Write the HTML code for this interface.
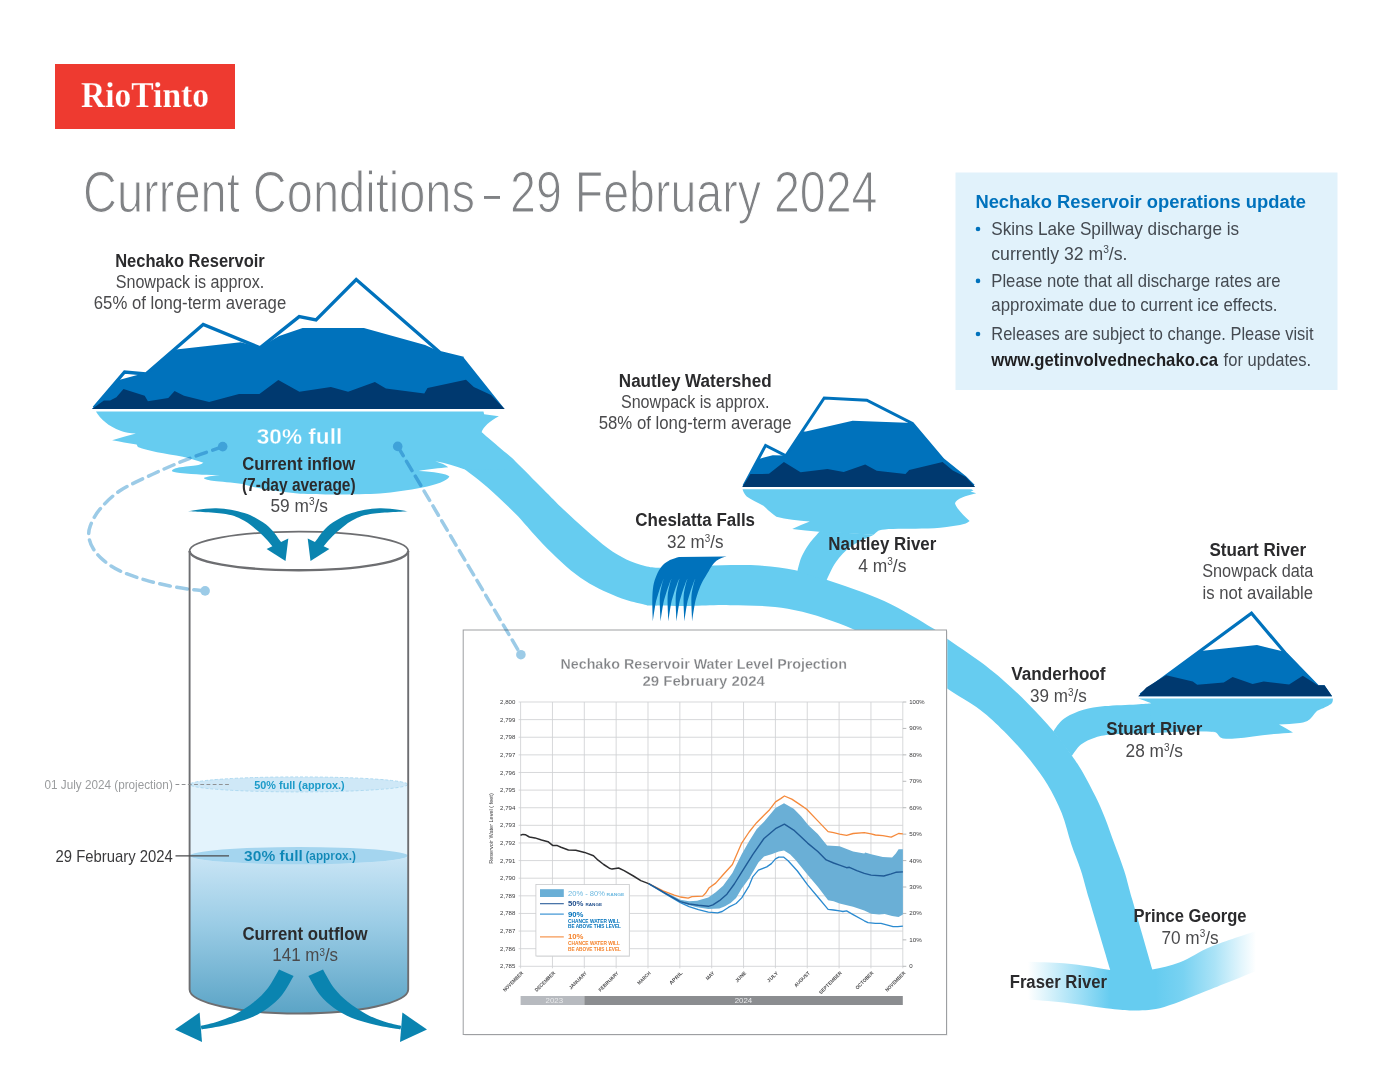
<!DOCTYPE html>
<html lang="en"><head><meta charset="utf-8"><title>Current Conditions - 29 February 2024</title>
<style>
html,body{margin:0;padding:0;background:#fff;}
body{width:1400px;height:1082px;overflow:hidden;font-family:"Liberation Sans",sans-serif;}
svg{display:block;}
text{white-space:pre;}
</style></head><body>
<svg width="1400" height="1082" viewBox="0 0 1400 1082">
<defs>
<linearGradient id="gWater" x1="0" y1="0" x2="0" y2="1">
<stop offset="0" stop-color="#cfe8f7"/><stop offset="0.45" stop-color="#9ccde6"/><stop offset="1" stop-color="#5ba4c6"/>
</linearGradient>
<linearGradient id="gFraser" gradientUnits="userSpaceOnUse" x1="1028" y1="0" x2="1256" y2="0">
<stop offset="0" stop-color="#66ccf0" stop-opacity="0"/><stop offset="0.16" stop-color="#66ccf0" stop-opacity="0.45"/><stop offset="0.36" stop-color="#66ccf0" stop-opacity="1"/>
<stop offset="0.56" stop-color="#66ccf0" stop-opacity="1"/><stop offset="0.68" stop-color="#66ccf0" stop-opacity="0.88"/><stop offset="0.82" stop-color="#66ccf0" stop-opacity="0.55"/>
<stop offset="0.93" stop-color="#66ccf0" stop-opacity="0.2"/><stop offset="1" stop-color="#66ccf0" stop-opacity="0"/>
</linearGradient>
</defs>
<rect width="1400" height="1082" fill="#fff"/>
<rect x="55" y="64" width="180" height="65" fill="#ee3a30"/>
<text x="81.0" y="107.1" font-family="'Liberation Serif', serif" font-size="36.50" font-weight="bold" fill="#fff" text-anchor="start" textLength="128.0" lengthAdjust="spacingAndGlyphs" stroke="#ee3a30" stroke-width="0.25">RioTinto</text>
<text x="83.0" y="211.7" font-family="'Liberation Sans', sans-serif" font-size="56.50" fill="#808285" text-anchor="start" textLength="392.0" lengthAdjust="spacingAndGlyphs" stroke="#fff" stroke-width="1.2">Current Conditions</text>
<rect x="484" y="196" width="16" height="2.9" fill="#808285"/>
<text x="510.0" y="211.7" font-family="'Liberation Sans', sans-serif" font-size="56.50" fill="#808285" text-anchor="start" textLength="367.5" lengthAdjust="spacingAndGlyphs" stroke="#fff" stroke-width="1.2">29 February 2024</text>
<rect x="955.5" y="172.5" width="382" height="217.5" fill="#e1f2fb"/>
<text x="975.4" y="208.0" font-family="'Liberation Sans', sans-serif" font-size="19.20" font-weight="bold" fill="#0072bc" text-anchor="start" textLength="330.6" lengthAdjust="spacingAndGlyphs">Nechako Reservoir operations update</text>
<text x="991.3" y="235.0" font-family="'Liberation Sans', sans-serif" font-size="18.20" fill="#444a51" text-anchor="start" textLength="247.8" lengthAdjust="spacingAndGlyphs">Skins Lake Spillway discharge is</text>
<circle cx="978" cy="229.0" r="2.3" fill="#0072bc"/>
<text x="991.3" y="259.9" font-family="'Liberation Sans', sans-serif" font-size="18.20" fill="#444a51" text-anchor="start" textLength="136.2" lengthAdjust="spacingAndGlyphs">currently 32 m<tspan font-size="58%" dy="-0.62em">3</tspan><tspan dy="0.3596em">/s</tspan>.</text>
<text x="991.3" y="286.9" font-family="'Liberation Sans', sans-serif" font-size="18.20" fill="#444a51" text-anchor="start" textLength="289.2" lengthAdjust="spacingAndGlyphs">Please note that all discharge rates are</text>
<circle cx="978" cy="280.9" r="2.3" fill="#0072bc"/>
<text x="991.3" y="311.2" font-family="'Liberation Sans', sans-serif" font-size="18.20" fill="#444a51" text-anchor="start" textLength="286.2" lengthAdjust="spacingAndGlyphs">approximate due to current ice effects.</text>
<text x="991.3" y="340.0" font-family="'Liberation Sans', sans-serif" font-size="18.20" fill="#444a51" text-anchor="start" textLength="322.2" lengthAdjust="spacingAndGlyphs">Releases are subject to change. Please visit</text>
<circle cx="978" cy="334.0" r="2.3" fill="#0072bc"/>
<text x="991.3" y="365.5" font-family="'Liberation Sans', sans-serif" font-size="18.20" font-weight="bold" fill="#1f1f21" text-anchor="start" textLength="226.8" lengthAdjust="spacingAndGlyphs">www.getinvolvednechako.ca</text>
<text x="1223.6" y="365.5" font-family="'Liberation Sans', sans-serif" font-size="18.20" fill="#444a51" text-anchor="start" textLength="87.5" lengthAdjust="spacingAndGlyphs">for updates.</text>
<path d="M481.6 432.3C484.3 434.6 492.4 441.4 498.0 446.2C503.6 451.0 508.0 454.2 515.5 461.4C523.0 468.6 535.2 481.2 543.2 489.2C551.2 497.2 556.4 502.7 563.5 509.5C570.6 516.3 578.3 523.3 585.7 529.8C593.1 536.3 601.1 543.4 607.9 548.3C614.7 553.2 620.2 556.5 626.4 559.4C632.6 562.3 639.2 564.5 644.9 565.9C650.6 567.3 653.1 567.5 660.6 567.7C668.1 567.9 679.7 567.4 690.0 567.0C700.3 566.6 710.5 565.5 722.2 565.2C733.9 565.0 747.8 564.7 760.0 565.5C772.2 566.3 784.4 567.8 795.5 570.2C806.6 572.6 811.6 574.7 826.4 579.8C841.2 584.9 866.5 593.0 884.2 601.0C901.9 609.0 922.0 621.8 932.4 628.0C942.8 634.2 938.5 632.7 946.4 638.3C954.3 643.9 970.4 654.5 980.0 661.6C989.6 668.7 996.0 673.9 1004.0 680.9C1012.0 687.9 1019.9 695.4 1028.1 703.7C1036.3 712.0 1046.0 722.3 1053.3 730.9C1060.6 739.5 1066.8 748.3 1071.8 755.4C1076.8 762.5 1079.5 766.6 1083.4 773.4C1087.3 780.2 1091.8 788.9 1095.4 796.3C1099.0 803.7 1101.8 809.9 1105.0 817.9C1108.2 825.9 1111.4 835.5 1114.6 844.3C1117.8 853.1 1121.2 861.5 1124.2 870.8C1127.2 880.1 1127.7 883.6 1132.4 900.1C1137.1 916.6 1148.2 955.2 1152.3 969.5C1156.4 983.8 1156.2 983.2 1157.0 986.0L1114.6 986.0C1113.9 983.4 1114.4 984.4 1110.2 970.1C1106.0 955.8 1094.3 916.7 1089.4 900.1C1084.5 883.5 1084.0 880.1 1081.0 870.8C1078.0 861.5 1074.5 853.9 1071.3 844.3C1068.1 834.7 1065.7 823.1 1061.7 813.1C1057.7 803.1 1052.9 793.4 1047.3 784.2C1041.7 775.0 1035.3 766.6 1028.1 757.8C1020.9 749.0 1012.0 739.3 1004.0 731.3C996.0 723.3 989.6 716.9 980.0 709.7C970.4 702.5 959.7 697.1 946.4 688.0C933.1 678.9 916.8 665.3 900.0 655.0C883.2 644.7 864.4 633.8 845.7 626.1C827.0 618.4 807.1 612.2 787.8 608.7C768.5 605.2 746.3 605.7 730.0 605.2C713.7 604.8 703.0 605.9 690.0 606.0C677.0 606.1 659.8 605.8 652.3 605.6C644.8 605.4 649.2 605.6 644.9 604.7C640.6 603.8 632.6 602.1 626.4 600.1C620.2 598.1 614.1 595.5 607.9 592.7C601.7 589.9 595.6 587.1 589.4 583.4C583.2 579.7 577.1 575.5 570.9 570.5C564.7 565.5 558.6 559.6 552.4 553.6C546.2 547.6 540.0 540.8 533.9 534.2C527.8 527.6 523.2 521.6 515.5 513.8C507.8 506.0 496.1 495.0 487.7 487.6C479.3 480.2 468.7 472.6 464.9 469.6Z" fill="#66ccf0"/>
<path d="M1028.0 961.7C1034.0 962.0 1053.4 962.4 1063.7 963.2C1074.0 964.0 1082.2 965.4 1090.0 966.5C1097.8 967.6 1103.4 969.3 1110.2 970.1C1117.0 970.9 1124.0 971.6 1131.0 971.5C1138.0 971.4 1144.1 971.0 1152.3 969.5C1160.5 968.0 1170.2 966.1 1180.0 962.3C1189.8 958.5 1198.7 951.8 1211.4 946.6C1224.1 941.4 1248.6 933.6 1256.0 931.0L1256.0 971.0C1248.6 974.0 1226.7 983.0 1211.4 989.0C1196.1 995.0 1176.9 1003.3 1164.3 1006.9C1151.7 1010.5 1144.9 1010.1 1136.0 1010.4C1127.1 1010.7 1123.0 1010.1 1110.9 1008.8C1098.9 1007.5 1077.5 1004.1 1063.7 1002.5C1049.9 1000.9 1034.0 999.9 1028.0 999.4Z" fill="url(#gFraser)"/>
<path d="M820.0 531.0C818.2 533.2 812.1 539.7 809.0 544.0C805.9 548.3 803.5 552.4 801.5 557.0C799.5 561.6 798.0 569.1 797.3 571.5L826.4 580.5C828.0 577.4 831.9 567.7 836.0 562.0C840.1 556.3 844.7 551.0 851.0 546.5C857.3 542.0 869.9 536.7 873.7 534.7Z" fill="#66ccf0"/>
<path d="M1053.3 731.6C1054.2 730.2 1056.8 726.0 1059.0 723.5C1061.2 721.0 1062.4 719.2 1066.5 716.9C1070.6 714.6 1077.0 711.5 1083.4 709.7C1089.8 707.9 1096.2 707.0 1105.0 706.1C1113.8 705.2 1128.6 704.8 1136.3 704.4C1144.0 704.0 1148.5 703.7 1151.0 703.6L1215.0 732.4C1212.8 732.2 1210.0 731.1 1201.7 731.1C1193.4 731.1 1173.9 732.0 1165.0 732.4C1156.1 732.8 1156.7 733.0 1148.3 733.3C1139.9 733.6 1123.4 733.5 1114.6 734.2C1105.8 734.9 1101.0 735.7 1095.4 737.4C1089.8 739.1 1084.9 741.5 1081.0 744.6C1077.1 747.7 1073.3 754.1 1071.8 756.0Z" fill="#66ccf0"/>
<path d="M92.0 409.0L118.8 380.0L139.2 374.5L146.2 373.0L176.1 349.4L240.6 342.3L260.2 347.3L279.1 336.0L302.6 328.1L363.9 328.1L425.1 345.1L440.1 351.7L463.6 357.5L504.6 409.0Z" fill="#0072bc"/>
<path d="M94.0 407.9L124.6 372L146 374L203.2 324.4L260 347.8L299.2 316.6L316 319.9L356.2 279.6L440 352.6L463.4 358.4" fill="none" stroke="#0072bc" stroke-width="3.3" stroke-linejoin="miter"/>
<path d="M92.0 409.0L103.9 400.6L110.1 400.4L116.4 397.3L123.5 389.0L144.7 395.7L147.9 401.2L168.3 398.1L174.6 391.0L184.0 395.7L209.1 402.0L239.0 394.1L259.4 394.1L278.3 380.0L299.4 391.8L330.9 387.1L348.1 391.8L374.9 381.9L385.9 388.6L424.3 393.4L427.5 387.9L466.0 379.7L473.8 387.1L491.1 394.9L504.6 409.0Z" fill="#00396f"/>
<path d="M96.1 411.6L483.5 411.6L484.1 414.3L498.9 416.2C490 421 483 427 481.6 432.3L520 470L464.9 469.6C455 466 446 463 435.3 461.2C441 463 446 465 448.3 467.3C440 468.3 428 469 418.6 471.1C433 472 447 473.5 449.4 476.6C447 481 436 485 422.4 487.6C408 490.5 394 492.4 380 493.4C360 494.6 320 494.8 300 493.7C275 491.5 255 488 242.9 483.9C232 482.5 220 481.6 214.3 481C209 480.4 204 479.4 204 478.1C205 476.8 213 475.8 220 475.3C210 475.2 195 474.4 180 473C175 472.4 172 471.8 172 470.7C172 469.3 176 468 180 467.3C188 466.2 195 465.6 198.3 465C200.5 464.4 202.5 463.5 203.4 462.7C196 460.3 190 458.4 182.9 456.7C174 455 165 453.7 157.1 452.2C150 450.7 143 449 137.9 447.1L136.6 444.5C128 443.2 120 441.8 112.1 440.3C120 437.8 128 435.5 135.9 433.6C130 433.2 125 432.3 121.1 431C114 428.5 109 425.5 105.7 422.6C101 418.5 98 415 96.1 411.7Z" fill="#66ccf0"/>
<path d="M742.4 486.9L758.0 458.4L760.6 458.4L772.7 455.2L785.7 455.6L803.0 431.4L805.8 431.4L852.6 420.7L906.4 422.7L912.9 423.1L943.6 459.3L965.8 476.9L975.0 486.9Z" fill="#0072bc"/>
<path d="M743.9 485.9L765.6 445.4L785.9 455.8L824.2 398L866.8 400.2L912.4 423.4L943 459.6L965 477.4L973.5 485.9" fill="none" stroke="#0072bc" stroke-width="3.0" stroke-linejoin="miter"/>
<path d="M742.4 486.9L750.4 474.1L769.0 473.8L783.9 462.1L800.6 472.3L827.5 469.1L843.7 471.9L865.2 464.5L876.7 470.8L905.5 474.1L909.2 470.1L942.6 462.1L952.8 470.4L965.8 476.9L975.0 486.9Z" fill="#00396f"/>
<path d="M742.6 489.2L971.4 489.2L973.5 490.4L970.5 491.6L976.2 493.2C966 495.5 956 499 955 503.2C956.5 509 964 515.5 969.6 521.1C968 523 964 524.3 960 525C951 526.6 942 527.7 934.3 528.2C918 528.8 900 528.6 888.6 529C883 529.5 880 530 878.3 530.7C876.5 532 875 533.5 873.7 534.7L819.1 531.7C810 531 801 530 792.2 528.9C798 526.3 804 523.8 809.8 521.5C798 520.6 786 519.3 776.4 516.8C771 513 767 509 763.4 505.7C757 502.3 751 499.5 746.7 496.4C744.5 494 743.3 491.7 742.6 489.4Z" fill="#66ccf0"/>
<path d="M1138.3 696.2L1200.5 650.9L1257.0 645.0L1285.8 652.0L1317.9 685.3L1324.5 685.3L1332.1 696.2Z" fill="#0072bc"/>
<path d="M1140.6 694.8L1251.5 613.2L1285.2 653L1317.3 686.2" fill="none" stroke="#0072bc" stroke-width="3.2" stroke-linejoin="miter"/>
<path d="M1138.3 696.2L1146.3 687.5L1166.2 675.3L1192.8 681.5L1197.2 684.8L1223.8 682.4L1232.6 677.1L1252.6 684.1L1263.7 681.5L1289.1 684.6L1302.8 675.7L1317.9 685.3L1324.5 685.3L1332.1 696.2Z" fill="#00396f"/>
<path d="M1138.5 698.5L1332.8 698.5C1333 700.5 1332.6 702.3 1331.5 703.5C1330 705 1324 708 1320 709.5C1317.5 710.5 1316.5 711.3 1316 712C1314 714 1313 716 1311 718C1309.5 719.7 1308 720.8 1306 721.5C1304 722.3 1302 722.8 1300 723C1293 723.8 1286 724.2 1279 724.5C1284 727.2 1288.5 730 1293 732.5C1287 733.2 1280 733.6 1274 734C1267 734.8 1260 735.6 1253 736.5C1247 737.3 1241 738.1 1235 738.5C1231 738.8 1227 738.8 1223 738.5C1221 738 1219.8 737 1219 736C1218 734.6 1217.2 733.3 1216 732.5C1214.5 731.8 1212 731.6 1210 731.5L1150 731L1150.7 703C1146 701.3 1142 699.8 1138.5 698.5Z" fill="#66ccf0"/>
<path d="M652.8 621.4C652.7 617.9 652.2 606.4 652.3 600.5C652.4 594.6 652.6 590.2 653.3 586.0C654.0 581.8 655.2 578.4 656.6 575.2C658.0 572.0 659.6 569.0 661.6 566.6C663.6 564.2 665.9 562.4 668.8 560.8C671.7 559.2 677.2 557.7 678.9 557.1L726.5 556.5L726.5 556.5C725.7 556.7 723.2 557.2 721.5 557.9C719.8 558.6 718.0 559.5 716.4 560.8C714.8 562.1 713.3 563.9 712.1 565.5C710.9 567.1 710.4 568.2 709.2 570.2C708.0 572.2 706.2 575.1 704.9 577.4C703.6 579.7 702.5 581.2 701.3 583.9C700.1 586.5 698.8 589.9 697.7 593.3C696.6 596.7 695.7 599.4 694.8 604.1C693.9 608.8 692.5 618.5 692.1 621.4L692.1 621.4C692.0 618.5 691.5 608.8 691.4 604.1C691.3 599.4 691.3 596.6 691.7 593.3C692.1 590.0 693.0 586.7 693.6 584.2C694.2 581.8 695.1 579.5 695.4 578.6L695.4 578.6C695.0 579.5 694.0 581.5 693.1 583.9C692.2 586.3 690.9 589.9 689.9 593.3C688.9 596.7 687.9 599.4 687.0 604.1C686.1 608.8 684.8 618.5 684.3 621.4L684.3 621.4C684.2 618.5 683.7 608.8 683.6 604.1C683.5 599.4 683.5 596.6 683.9 593.3C684.3 590.0 685.2 586.7 685.8 584.2C686.4 581.8 687.3 579.5 687.5 578.6L687.5 578.6C687.2 579.5 686.1 581.5 685.2 583.9C684.3 586.3 683.0 589.9 682.0 593.3C681.0 596.7 680.0 599.4 679.1 604.1C678.2 608.8 676.9 618.5 676.4 621.4L676.4 621.4C676.3 618.5 675.8 608.8 675.7 604.1C675.6 599.4 675.6 596.6 676.0 593.3C676.4 590.0 677.3 586.7 677.9 584.2C678.5 581.8 679.3 579.5 679.5 578.6L679.5 578.6C679.1 579.5 678.0 581.5 677.1 583.9C676.2 586.3 674.9 589.9 673.9 593.3C672.9 596.7 671.9 599.4 671.0 604.1C670.1 608.8 668.8 618.5 668.3 621.4L668.3 621.4C668.2 618.5 667.7 608.8 667.6 604.1C667.5 599.4 667.5 596.6 667.9 593.3C668.3 590.0 669.2 586.7 669.8 584.2C670.4 581.8 671.3 579.5 671.6 578.6L671.6 578.6C671.2 579.5 670.2 581.5 669.3 583.9C668.4 586.3 667.1 589.9 666.1 593.3C665.1 596.7 664.1 599.4 663.2 604.1C662.3 608.8 661.0 618.5 660.5 621.4L660.5 621.4C660.4 618.5 659.9 608.8 659.8 604.1C659.7 599.4 659.7 596.6 660.1 593.3C660.5 590.0 661.4 586.7 662.0 584.2C662.6 581.8 663.5 579.5 663.8 578.6L663.8 578.6C663.5 579.5 662.5 581.5 661.6 583.9C660.7 586.3 659.4 589.9 658.4 593.3C657.4 596.7 656.4 599.4 655.5 604.1C654.6 608.8 653.2 618.5 652.8 621.4Z" fill="#0072bc"/>
<text x="190.0" y="266.7" font-family="'Liberation Sans', sans-serif" font-size="17.50" font-weight="bold" fill="#2b2b2d" text-anchor="middle" textLength="149.6" lengthAdjust="spacingAndGlyphs">Nechako Reservoir</text>
<text x="190.0" y="287.8" font-family="'Liberation Sans', sans-serif" font-size="17.50" fill="#4a4a4c" text-anchor="middle" textLength="148.6" lengthAdjust="spacingAndGlyphs">Snowpack is approx.</text>
<text x="190.0" y="308.9" font-family="'Liberation Sans', sans-serif" font-size="17.50" fill="#4a4a4c" text-anchor="middle" textLength="192.4" lengthAdjust="spacingAndGlyphs">65% of long-term average</text>
<text x="695.2" y="387.0" font-family="'Liberation Sans', sans-serif" font-size="17.50" font-weight="bold" fill="#2b2b2d" text-anchor="middle" textLength="152.7" lengthAdjust="spacingAndGlyphs">Nautley Watershed</text>
<text x="695.2" y="408.1" font-family="'Liberation Sans', sans-serif" font-size="17.50" fill="#4a4a4c" text-anchor="middle" textLength="148.6" lengthAdjust="spacingAndGlyphs">Snowpack is approx.</text>
<text x="695.2" y="429.2" font-family="'Liberation Sans', sans-serif" font-size="17.50" fill="#4a4a4c" text-anchor="middle" textLength="193.0" lengthAdjust="spacingAndGlyphs">58% of long-term average</text>
<text x="1257.8" y="555.9" font-family="'Liberation Sans', sans-serif" font-size="17.50" font-weight="bold" fill="#2b2b2d" text-anchor="middle" textLength="96.7" lengthAdjust="spacingAndGlyphs">Stuart River</text>
<text x="1257.8" y="577.2" font-family="'Liberation Sans', sans-serif" font-size="17.50" fill="#4a4a4c" text-anchor="middle" textLength="111.1" lengthAdjust="spacingAndGlyphs">Snowpack data</text>
<text x="1257.8" y="598.6" font-family="'Liberation Sans', sans-serif" font-size="17.50" fill="#4a4a4c" text-anchor="middle" textLength="110.4" lengthAdjust="spacingAndGlyphs">is not available</text>
<text x="695.2" y="526.3" font-family="'Liberation Sans', sans-serif" font-size="17.50" font-weight="bold" fill="#2b2b2d" text-anchor="middle" textLength="119.7" lengthAdjust="spacingAndGlyphs">Cheslatta Falls</text>
<text x="695.2" y="548.1" font-family="'Liberation Sans', sans-serif" font-size="17.50" fill="#4a4a4c" text-anchor="middle" textLength="56.5" lengthAdjust="spacingAndGlyphs">32 m<tspan font-size="58%" dy="-0.62em">3</tspan><tspan dy="0.3596em">/s</tspan></text>
<text x="882.3" y="549.8" font-family="'Liberation Sans', sans-serif" font-size="17.50" font-weight="bold" fill="#2b2b2d" text-anchor="middle" textLength="108.0" lengthAdjust="spacingAndGlyphs">Nautley River</text>
<text x="882.3" y="571.6" font-family="'Liberation Sans', sans-serif" font-size="17.50" fill="#4a4a4c" text-anchor="middle" textLength="48.2" lengthAdjust="spacingAndGlyphs">4 m<tspan font-size="58%" dy="-0.62em">3</tspan><tspan dy="0.3596em">/s</tspan></text>
<text x="1058.4" y="680.4" font-family="'Liberation Sans', sans-serif" font-size="17.50" font-weight="bold" fill="#2b2b2d" text-anchor="middle" textLength="94.3" lengthAdjust="spacingAndGlyphs">Vanderhoof</text>
<text x="1058.4" y="702.2" font-family="'Liberation Sans', sans-serif" font-size="17.50" fill="#4a4a4c" text-anchor="middle" textLength="56.6" lengthAdjust="spacingAndGlyphs">39 m<tspan font-size="58%" dy="-0.62em">3</tspan><tspan dy="0.3596em">/s</tspan></text>
<text x="1154.3" y="735.0" font-family="'Liberation Sans', sans-serif" font-size="17.50" font-weight="bold" fill="#2b2b2d" text-anchor="middle" textLength="95.9" lengthAdjust="spacingAndGlyphs">Stuart River</text>
<text x="1154.3" y="756.8" font-family="'Liberation Sans', sans-serif" font-size="17.50" fill="#4a4a4c" text-anchor="middle" textLength="57.4" lengthAdjust="spacingAndGlyphs">28 m<tspan font-size="58%" dy="-0.62em">3</tspan><tspan dy="0.3596em">/s</tspan></text>
<text x="1190.0" y="921.7" font-family="'Liberation Sans', sans-serif" font-size="17.50" font-weight="bold" fill="#2b2b2d" text-anchor="middle" textLength="113.1" lengthAdjust="spacingAndGlyphs">Prince George</text>
<text x="1190.0" y="943.5" font-family="'Liberation Sans', sans-serif" font-size="17.50" fill="#4a4a4c" text-anchor="middle" textLength="57.2" lengthAdjust="spacingAndGlyphs">70 m<tspan font-size="58%" dy="-0.62em">3</tspan><tspan dy="0.3596em">/s</tspan></text>
<text x="1058.4" y="988.0" font-family="'Liberation Sans', sans-serif" font-size="17.50" font-weight="bold" fill="#2b2b2d" text-anchor="middle" textLength="97.4" lengthAdjust="spacingAndGlyphs">Fraser River</text>
<text x="299.5" y="443.7" font-family="'Liberation Sans', sans-serif" font-size="22.50" font-weight="bold" fill="#fff" text-anchor="middle" textLength="85.4" lengthAdjust="spacingAndGlyphs" stroke="#66ccf0" stroke-width="0.3">30% full</text>
<text x="298.8" y="469.7" font-family="'Liberation Sans', sans-serif" font-size="17.50" font-weight="bold" fill="#2b2b2d" text-anchor="middle" textLength="113.0" lengthAdjust="spacingAndGlyphs">Current inflow</text>
<text x="298.8" y="491.0" font-family="'Liberation Sans', sans-serif" font-size="17.50" font-weight="bold" fill="#2b2b2d" text-anchor="middle" textLength="113.7" lengthAdjust="spacingAndGlyphs">(7-day average)</text>
<text x="299.2" y="511.7" font-family="'Liberation Sans', sans-serif" font-size="17.50" fill="#4a4a4c" text-anchor="middle" textLength="57.5" lengthAdjust="spacingAndGlyphs">59 m<tspan font-size="58%" dy="-0.62em">3</tspan><tspan dy="0.3596em">/s</tspan></text>
<path d="M189.6 855.7A109.3 8 0 0 1 408.2 855.7L408.2 989.6A109.3 23.9 0 0 1 189.6 989.6Z" fill="url(#gWater)"/>
<path d="M189.6 784.4A109.3 7.5 0 0 1 408.2 784.4L408.2 856A109.3 8 0 0 1 189.6 856Z" fill="#e3f3fc"/>
<ellipse cx="298.9" cy="784.4" rx="108.8" ry="7.5" fill="#cfe8f7" stroke="#a9d7ef" stroke-width="0.9" stroke-dasharray="3 2"/>
<ellipse cx="298.9" cy="855.7" rx="108.8" ry="8.6" fill="#a4d5ef"/>
<path d="M189.6 551L189.6 989.6A109.3 23.9 0 0 0 408.2 989.6L408.2 551" fill="none" stroke="#6d6e71" stroke-width="1.9"/>
<path d="M189.6 551A109.3 19.3 0 0 1 408.2 551" fill="none" stroke="#6d6e71" stroke-width="1.7"/>
<path d="M189.6 551A109.3 19.3 0 0 0 408.2 551" fill="none" stroke="#6d6e71" stroke-width="2.4"/>
<text x="172.8" y="788.6" font-family="'Liberation Sans', sans-serif" font-size="12.60" fill="#9a9c9e" text-anchor="end" textLength="128.2" lengthAdjust="spacingAndGlyphs">01 July 2024 (projection)</text>
<path d="M175.5 784.5H229" stroke="#8f9193" stroke-width="1" stroke-dasharray="3.8 2.4" fill="none"/>
<text x="172.8" y="861.6" font-family="'Liberation Sans', sans-serif" font-size="16.60" fill="#3a3a3c" text-anchor="end" textLength="117.3" lengthAdjust="spacingAndGlyphs">29 February 2024</text>
<path d="M175.5 855.9H229" stroke="#4a4a4c" stroke-width="1.2" fill="none"/>
<text x="299.5" y="788.6" font-family="'Liberation Sans', sans-serif" font-size="11.60" font-weight="bold" fill="#1c9bc9" text-anchor="middle" textLength="90.4" lengthAdjust="spacingAndGlyphs">50% full (approx.)</text>
<text x="244.1" y="860.6" font-family="'Liberation Sans', sans-serif" font-size="15.00" font-weight="bold" fill="#0d87b6" text-anchor="start" textLength="58.8" lengthAdjust="spacingAndGlyphs" stroke="#a4d5ef" stroke-width="0.12">30% full</text>
<text x="355.9" y="860.0" font-family="'Liberation Sans', sans-serif" font-size="12.80" font-weight="bold" fill="#0d87b6" text-anchor="end" textLength="50.5" lengthAdjust="spacingAndGlyphs" stroke="#a4d5ef" stroke-width="0.12">(approx.)</text>
<text x="305.0" y="939.5" font-family="'Liberation Sans', sans-serif" font-size="18.60" font-weight="bold" fill="#2b2b2d" text-anchor="middle" textLength="125.2" lengthAdjust="spacingAndGlyphs">Current outflow</text>
<text x="305.2" y="960.8" font-family="'Liberation Sans', sans-serif" font-size="18.60" fill="#4a4a4c" text-anchor="middle" textLength="65.7" lengthAdjust="spacingAndGlyphs">141 m<tspan font-size="58%" dy="-0.41em">3</tspan><tspan dy="0.2378em">/s</tspan></text>
<path d="M188.0 511.2C192.7 510.7 207.0 507.9 216.4 508.2C225.8 508.5 236.6 510.6 244.3 513.0C252.1 515.4 258.1 519.3 262.9 522.3C267.7 525.3 270.2 528.2 273.0 531.2C275.8 534.2 278.2 538.3 279.9 540.6C281.6 542.9 282.5 544.3 283.0 545.0L276.5 550.5C275.9 549.8 274.5 548.4 272.6 546.4C270.8 544.4 267.9 540.8 265.4 538.2C262.8 535.6 260.8 533.5 257.3 530.6C253.8 527.7 249.6 523.5 244.3 520.7C239.0 517.9 235.1 515.6 225.7 514.0C216.3 512.4 194.3 511.7 188.0 511.2Z" fill="#0a84b0"/>
<path d="M288.3 538.6L266.6 548.9L285.5 560.9Z" fill="#0a84b0"/>
<path d="M408.0 511.2C403.3 510.7 389.0 507.9 379.6 508.2C370.2 508.5 359.4 510.6 351.7 513.0C343.9 515.4 337.9 519.3 333.1 522.3C328.3 525.3 325.8 528.2 323.0 531.2C320.2 534.2 317.8 538.3 316.1 540.6C314.4 542.9 313.5 544.3 313.0 545.0L319.5 550.5C320.1 549.8 321.5 548.4 323.4 546.4C325.2 544.4 328.1 540.8 330.6 538.2C333.2 535.6 335.2 533.5 338.7 530.6C342.2 527.7 346.4 523.5 351.7 520.7C357.0 517.9 360.9 515.6 370.3 514.0C379.7 512.4 401.7 511.7 408.0 511.2Z" fill="#0a84b0"/>
<path d="M307.7 538.6L329.4 548.9L310.5 560.9Z" fill="#0a84b0"/>
<path d="M279.0 969.6C277.2 972.7 272.2 982.6 268.0 988.0C263.8 993.4 259.3 997.7 254.0 1002.0C248.7 1006.3 242.0 1010.7 236.0 1014.0C230.0 1017.3 223.9 1019.6 218.0 1021.6C212.1 1023.6 203.5 1025.3 200.6 1026.0L201.6 1029.4C205.7 1028.7 217.9 1026.9 226.0 1025.0C234.1 1023.1 243.0 1020.8 250.0 1018.0C257.0 1015.2 262.7 1011.8 268.0 1008.0C273.3 1004.2 277.7 1000.3 282.0 995.0C286.3 989.7 291.7 979.2 293.6 976.0Z" fill="#0a84b0"/>
<path d="M199.6 1012.6L202.0 1042.0L175.0 1029.4Z" fill="#0a84b0"/>
<path d="M323.0 969.6C324.8 972.7 329.8 982.6 334.0 988.0C338.2 993.4 342.7 997.7 348.0 1002.0C353.3 1006.3 360.0 1010.7 366.0 1014.0C372.0 1017.3 378.1 1019.6 384.0 1021.6C389.9 1023.6 398.5 1025.3 401.4 1026.0L400.4 1029.4C396.3 1028.7 384.1 1026.9 376.0 1025.0C367.9 1023.1 359.0 1020.8 352.0 1018.0C345.0 1015.2 339.3 1011.8 334.0 1008.0C328.7 1004.2 324.3 1000.3 320.0 995.0C315.7 989.7 310.3 979.2 308.4 976.0Z" fill="#0a84b0"/>
<path d="M402.4 1012.6L400.0 1042.0L427.0 1029.4Z" fill="#0a84b0"/>
<rect x="464.6" y="631.2" width="483" height="404.5" fill="#dcdcdc" opacity="0.6"/>
<rect x="463.2" y="630" width="483.3" height="404.5" fill="#fff" stroke="#9d9fa2" stroke-width="1"/>
<text x="703.7" y="668.6" font-family="'Liberation Sans', sans-serif" font-size="15.40" font-weight="bold" fill="#808285" text-anchor="middle" textLength="286.4" lengthAdjust="spacingAndGlyphs" stroke="#fff" stroke-width="0.3">Nechako Reservoir Water Level Projection</text>
<text x="703.7" y="686.0" font-family="'Liberation Sans', sans-serif" font-size="15.40" font-weight="bold" fill="#808285" text-anchor="middle" textLength="122.4" lengthAdjust="spacingAndGlyphs" stroke="#fff" stroke-width="0.3">29 February 2024</text>
<path d="M520.60 702.0V968.3M552.45 702.0V968.3M584.30 702.0V968.3M616.15 702.0V968.3M648.00 702.0V968.3M679.85 702.0V968.3M711.70 702.0V968.3M743.55 702.0V968.3M775.40 702.0V968.3M807.25 702.0V968.3M839.10 702.0V968.3M870.95 702.0V968.3M902.80 702.0V968.3M518.6 702.00H902.8M518.6 719.62H902.8M518.6 737.24H902.8M518.6 754.86H902.8M518.6 772.48H902.8M518.6 790.10H902.8M518.6 807.72H902.8M518.6 825.34H902.8M518.6 842.96H902.8M518.6 860.58H902.8M518.6 878.20H902.8M518.6 895.82H902.8M518.6 913.44H902.8M518.6 931.06H902.8M518.6 948.68H902.8M518.6 966.30H902.8" stroke="#d0d1d3" stroke-width="0.85" fill="none"/>
<path d="M902.8 966.30h3.5M902.8 939.87h3.5M902.8 913.44h3.5M902.8 887.01h3.5M902.8 860.58h3.5M902.8 834.15h3.5M902.8 807.72h3.5M902.8 781.29h3.5M902.8 754.86h3.5M902.8 728.43h3.5M902.8 702.00h3.5" stroke="#9a9c9e" stroke-width="0.7" fill="none"/>
<path d="M648.6 883.6L680.4 899.8L689.1 901.3L697.1 900.7L708.3 897.4L715.7 892.3L723.1 885.8L732.4 872.9L741.7 854.3L749.1 841.3L756.6 829.2L764.0 821.8L775.5 807.9L784.0 803.2L793.7 808.8L801.1 816.2L808.6 825.5L817.8 833.9L827.1 845.4L839.6 846.3L853.1 851.5L864.3 853.4L865.2 852.4L871.1 854.3L882.8 857.1L892.1 857.6L895.8 853.4L898.6 849.3L902.9 849.3L902.9 914.6L898.6 917.0L892.1 916.1L884.7 914.1L879.1 914.6L871.1 913.7L864.3 910.5L853.1 906.8L839.6 903.5L833.6 901.3L828.1 900.3L817.8 886.8L807.6 874.7L795.6 859.9L790.0 854.3L784.0 850.6L778.8 851.5L771.4 854.3L764.0 856.5L758.4 862.6L749.1 878.4L741.7 888.6L736.1 897.9L730.6 902.9L725.0 906.3L719.4 908.5L708.3 909.1L697.1 907.2L689.1 905.3L680.4 902.2L648.6 883.6Z" fill="#6aafd6"/>
<path d="M648.6 883.6L663.1 890.9L674.3 895.1L680.4 897.0L688.2 898.1L691.9 896.6L702.7 896.1L705.5 893.3L709.2 887.7L715.7 883.1L723.1 874.7L732.4 864.5L741.7 843.1L749.1 832.0L756.6 822.7L764.0 815.3L769.6 809.7L775.5 801.9L780.7 798.6L784.4 796.0L791.8 799.1L799.3 804.1L806.7 809.3L817.8 820.9L828.1 831.6L833.6 832.7L839.6 834.2L846.6 835.3L853.1 833.5L864.3 832.6L871.1 833.9L875.4 835.0L882.8 835.7L891.2 837.2L898.6 833.5L902.9 833.9" fill="none" stroke="#f58a3c" stroke-width="1.3" stroke-linejoin="round"/>
<path d="M648.6 883.6L666.8 894.8L680.4 902.6L689.1 906.6L698.4 909.6L708.3 912.2L717.6 912.8L722.2 911.5L728.7 907.2L736.1 903.5L741.7 897.9L749.1 885.8L752.9 876.6L758.4 870.1L766.8 866.9L771.4 863.6L775.5 858.9L778.8 857.1L783.5 857.1L788.1 860.8L797.4 871.0L807.6 884.9L817.8 897.0L828.1 909.4L833.6 910.0L839.6 910.9L842.9 911.5L846.6 910.9L853.1 914.6L864.3 920.8L868.0 922.6L875.4 923.4L881.0 923.4L886.6 924.8L893.1 926.7L897.7 926.7L902.9 926.1" fill="none" stroke="#2a8ad0" stroke-width="1.3" stroke-linejoin="round"/>
<path d="M648.6 883.6L655.7 887.7L666.8 894.2L680.4 901.6L689.1 904.0L698.4 905.3L708.3 906.3L712.9 904.8L719.4 900.7L726.9 894.2L734.3 884.0L743.6 869.1L752.9 854.3L764.0 838.5L775.5 828.7L784.4 824.2L793.7 830.1L807.6 843.1L817.8 851.5L826.2 859.9L833.6 863.0L839.6 865.1L846.6 867.7L849.4 867.3L856.8 870.6L864.3 873.4L871.1 875.1L883.8 876.0L891.2 873.8L895.8 872.3L902.9 871.9" fill="none" stroke="#1f5a96" stroke-width="1.4" stroke-linejoin="round"/>
<path d="M520.5 835.2L522.9 834.4L525.7 834.8L529.4 837.0L535.0 837.9L541.5 840.0L548.0 841.7L552.6 845.4L557.3 845.6L561.0 847.2L568.4 850.0L575.8 850.2L584.6 852.4L593.5 855.8L598.1 860.2L603.7 864.5L609.3 868.2L612.1 869.1L618.6 868.0L624.1 870.6L633.4 876.0L640.8 880.6L648.6 883.6" fill="none" stroke="#2d2d2f" stroke-width="1.5" stroke-linejoin="round"/>
<text x="515.3" y="968.3" font-family="'Liberation Sans', sans-serif" font-size="6.10" fill="#3a3a3c" text-anchor="end" textLength="15.2" lengthAdjust="spacingAndGlyphs">2,785</text>
<text x="515.3" y="950.7" font-family="'Liberation Sans', sans-serif" font-size="6.10" fill="#3a3a3c" text-anchor="end" textLength="15.2" lengthAdjust="spacingAndGlyphs">2,786</text>
<text x="515.3" y="933.1" font-family="'Liberation Sans', sans-serif" font-size="6.10" fill="#3a3a3c" text-anchor="end" textLength="15.2" lengthAdjust="spacingAndGlyphs">2,787</text>
<text x="515.3" y="915.4" font-family="'Liberation Sans', sans-serif" font-size="6.10" fill="#3a3a3c" text-anchor="end" textLength="15.2" lengthAdjust="spacingAndGlyphs">2,788</text>
<text x="515.3" y="897.8" font-family="'Liberation Sans', sans-serif" font-size="6.10" fill="#3a3a3c" text-anchor="end" textLength="15.2" lengthAdjust="spacingAndGlyphs">2,789</text>
<text x="515.3" y="880.2" font-family="'Liberation Sans', sans-serif" font-size="6.10" fill="#3a3a3c" text-anchor="end" textLength="15.2" lengthAdjust="spacingAndGlyphs">2,790</text>
<text x="515.3" y="862.6" font-family="'Liberation Sans', sans-serif" font-size="6.10" fill="#3a3a3c" text-anchor="end" textLength="15.2" lengthAdjust="spacingAndGlyphs">2,791</text>
<text x="515.3" y="845.0" font-family="'Liberation Sans', sans-serif" font-size="6.10" fill="#3a3a3c" text-anchor="end" textLength="15.2" lengthAdjust="spacingAndGlyphs">2,792</text>
<text x="515.3" y="827.3" font-family="'Liberation Sans', sans-serif" font-size="6.10" fill="#3a3a3c" text-anchor="end" textLength="15.2" lengthAdjust="spacingAndGlyphs">2,793</text>
<text x="515.3" y="809.7" font-family="'Liberation Sans', sans-serif" font-size="6.10" fill="#3a3a3c" text-anchor="end" textLength="15.2" lengthAdjust="spacingAndGlyphs">2,794</text>
<text x="515.3" y="792.1" font-family="'Liberation Sans', sans-serif" font-size="6.10" fill="#3a3a3c" text-anchor="end" textLength="15.2" lengthAdjust="spacingAndGlyphs">2,795</text>
<text x="515.3" y="774.5" font-family="'Liberation Sans', sans-serif" font-size="6.10" fill="#3a3a3c" text-anchor="end" textLength="15.2" lengthAdjust="spacingAndGlyphs">2,796</text>
<text x="515.3" y="756.9" font-family="'Liberation Sans', sans-serif" font-size="6.10" fill="#3a3a3c" text-anchor="end" textLength="15.2" lengthAdjust="spacingAndGlyphs">2,797</text>
<text x="515.3" y="739.2" font-family="'Liberation Sans', sans-serif" font-size="6.10" fill="#3a3a3c" text-anchor="end" textLength="15.2" lengthAdjust="spacingAndGlyphs">2,798</text>
<text x="515.3" y="721.6" font-family="'Liberation Sans', sans-serif" font-size="6.10" fill="#3a3a3c" text-anchor="end" textLength="15.2" lengthAdjust="spacingAndGlyphs">2,799</text>
<text x="515.3" y="704.0" font-family="'Liberation Sans', sans-serif" font-size="6.10" fill="#3a3a3c" text-anchor="end" textLength="15.2" lengthAdjust="spacingAndGlyphs">2,800</text>
<text x="909.3" y="968.3" font-family="'Liberation Sans', sans-serif" font-size="6.10" fill="#3a3a3c" text-anchor="start" textLength="3.4" lengthAdjust="spacingAndGlyphs">0</text>
<text x="909.3" y="941.9" font-family="'Liberation Sans', sans-serif" font-size="6.10" fill="#3a3a3c" text-anchor="start" textLength="12.5" lengthAdjust="spacingAndGlyphs">10%</text>
<text x="909.3" y="915.4" font-family="'Liberation Sans', sans-serif" font-size="6.10" fill="#3a3a3c" text-anchor="start" textLength="12.5" lengthAdjust="spacingAndGlyphs">20%</text>
<text x="909.3" y="889.0" font-family="'Liberation Sans', sans-serif" font-size="6.10" fill="#3a3a3c" text-anchor="start" textLength="12.5" lengthAdjust="spacingAndGlyphs">30%</text>
<text x="909.3" y="862.6" font-family="'Liberation Sans', sans-serif" font-size="6.10" fill="#3a3a3c" text-anchor="start" textLength="12.5" lengthAdjust="spacingAndGlyphs">40%</text>
<text x="909.3" y="836.1" font-family="'Liberation Sans', sans-serif" font-size="6.10" fill="#3a3a3c" text-anchor="start" textLength="12.5" lengthAdjust="spacingAndGlyphs">50%</text>
<text x="909.3" y="809.7" font-family="'Liberation Sans', sans-serif" font-size="6.10" fill="#3a3a3c" text-anchor="start" textLength="12.5" lengthAdjust="spacingAndGlyphs">60%</text>
<text x="909.3" y="783.3" font-family="'Liberation Sans', sans-serif" font-size="6.10" fill="#3a3a3c" text-anchor="start" textLength="12.5" lengthAdjust="spacingAndGlyphs">70%</text>
<text x="909.3" y="756.9" font-family="'Liberation Sans', sans-serif" font-size="6.10" fill="#3a3a3c" text-anchor="start" textLength="12.5" lengthAdjust="spacingAndGlyphs">80%</text>
<text x="909.3" y="730.4" font-family="'Liberation Sans', sans-serif" font-size="6.10" fill="#3a3a3c" text-anchor="start" textLength="12.5" lengthAdjust="spacingAndGlyphs">90%</text>
<text x="909.3" y="704.0" font-family="'Liberation Sans', sans-serif" font-size="6.10" fill="#3a3a3c" text-anchor="start" textLength="15.3" lengthAdjust="spacingAndGlyphs">100%</text>
<text transform="translate(493.4 828.5) rotate(-90)" font-family="'Liberation Sans', sans-serif" font-size="5" fill="#3a3a3c" text-anchor="middle" textLength="70.5" lengthAdjust="spacingAndGlyphs">Reservoir Water Level ( feet)</text>
<text transform="translate(523.6 973.4) rotate(-45)" font-family="'Liberation Sans', sans-serif" font-size="5" font-weight="bold" fill="#4a4a4c" text-anchor="end" textLength="26.4" lengthAdjust="spacingAndGlyphs">NOVEMBER</text>
<text transform="translate(555.5 973.4) rotate(-45)" font-family="'Liberation Sans', sans-serif" font-size="5" font-weight="bold" fill="#4a4a4c" text-anchor="end" textLength="26.4" lengthAdjust="spacingAndGlyphs">DECEMBER</text>
<text transform="translate(587.3 973.4) rotate(-45)" font-family="'Liberation Sans', sans-serif" font-size="5" font-weight="bold" fill="#4a4a4c" text-anchor="end" textLength="23.1" lengthAdjust="spacingAndGlyphs">JANUARY</text>
<text transform="translate(619.1 973.4) rotate(-45)" font-family="'Liberation Sans', sans-serif" font-size="5" font-weight="bold" fill="#4a4a4c" text-anchor="end" textLength="26.4" lengthAdjust="spacingAndGlyphs">FEBRUARY</text>
<text transform="translate(651.0 973.4) rotate(-45)" font-family="'Liberation Sans', sans-serif" font-size="5" font-weight="bold" fill="#4a4a4c" text-anchor="end" textLength="16.5" lengthAdjust="spacingAndGlyphs">MARCH</text>
<text transform="translate(682.9 973.4) rotate(-45)" font-family="'Liberation Sans', sans-serif" font-size="5" font-weight="bold" fill="#4a4a4c" text-anchor="end" textLength="16.5" lengthAdjust="spacingAndGlyphs">APRIL</text>
<text transform="translate(714.7 973.4) rotate(-45)" font-family="'Liberation Sans', sans-serif" font-size="5" font-weight="bold" fill="#4a4a4c" text-anchor="end" textLength="9.9" lengthAdjust="spacingAndGlyphs">MAY</text>
<text transform="translate(746.5 973.4) rotate(-45)" font-family="'Liberation Sans', sans-serif" font-size="5" font-weight="bold" fill="#4a4a4c" text-anchor="end" textLength="13.2" lengthAdjust="spacingAndGlyphs">JUNE</text>
<text transform="translate(778.4 973.4) rotate(-45)" font-family="'Liberation Sans', sans-serif" font-size="5" font-weight="bold" fill="#4a4a4c" text-anchor="end" textLength="13.2" lengthAdjust="spacingAndGlyphs">JULY</text>
<text transform="translate(810.2 973.4) rotate(-45)" font-family="'Liberation Sans', sans-serif" font-size="5" font-weight="bold" fill="#4a4a4c" text-anchor="end" textLength="19.8" lengthAdjust="spacingAndGlyphs">AUGUST</text>
<text transform="translate(842.1 973.4) rotate(-45)" font-family="'Liberation Sans', sans-serif" font-size="5" font-weight="bold" fill="#4a4a4c" text-anchor="end" textLength="29.7" lengthAdjust="spacingAndGlyphs">SEPTEMBER</text>
<text transform="translate(873.9 973.4) rotate(-45)" font-family="'Liberation Sans', sans-serif" font-size="5" font-weight="bold" fill="#4a4a4c" text-anchor="end" textLength="23.1" lengthAdjust="spacingAndGlyphs">OCTOBER</text>
<text transform="translate(905.8 973.4) rotate(-45)" font-family="'Liberation Sans', sans-serif" font-size="5" font-weight="bold" fill="#4a4a4c" text-anchor="end" textLength="26.4" lengthAdjust="spacingAndGlyphs">NOVEMBER</text>
<rect x="520.6" y="996" width="63.7" height="9" fill="#b7babf"/>
<rect x="584.3" y="996" width="318.5" height="9" fill="#8b8d90"/>
<text x="554.3" y="1003.4" font-family="'Liberation Sans', sans-serif" font-size="7.80" fill="#e9eaec" text-anchor="middle" textLength="17.5" lengthAdjust="spacingAndGlyphs">2023</text>
<text x="743.4" y="1003.4" font-family="'Liberation Sans', sans-serif" font-size="7.80" fill="#e9eaec" text-anchor="middle" textLength="17.5" lengthAdjust="spacingAndGlyphs">2024</text>
<rect x="536.6" y="885.4" width="93.4" height="71.4" fill="#d9d9d9" opacity="0.6"/>
<rect x="535.9" y="884.6" width="93.4" height="71.4" fill="#fff" stroke="#c9cacc" stroke-width="0.8"/>
<rect x="540" y="889.2" width="23.8" height="7.8" fill="#6aafd6"/>
<text x="568.0" y="895.6" font-family="'Liberation Sans', sans-serif" font-size="7.60" fill="#6db9e0" text-anchor="start" textLength="37.0" lengthAdjust="spacingAndGlyphs">20% - 80%</text>
<text x="606.6" y="895.6" font-family="'Liberation Sans', sans-serif" font-size="4.40" font-weight="bold" fill="#6db9e0" text-anchor="start" textLength="17.8" lengthAdjust="spacingAndGlyphs">RANGE</text>
<path d="M540 903.7H563.8" stroke="#2a5d9a" stroke-width="1.1"/>
<text x="568.0" y="905.9" font-family="'Liberation Sans', sans-serif" font-size="6.80" font-weight="bold" fill="#1f4e8c" text-anchor="start" textLength="15.5" lengthAdjust="spacingAndGlyphs">50%</text>
<text x="585.5" y="905.9" font-family="'Liberation Sans', sans-serif" font-size="4.40" font-weight="bold" fill="#1f4e8c" text-anchor="start" textLength="16.5" lengthAdjust="spacingAndGlyphs">RANGE</text>
<path d="M540 914.1H563.8" stroke="#2a8ad0" stroke-width="1.1"/>
<text x="568.0" y="916.5" font-family="'Liberation Sans', sans-serif" font-size="6.80" font-weight="bold" fill="#0072bc" text-anchor="start" textLength="15.5" lengthAdjust="spacingAndGlyphs">90%</text>
<text x="568.0" y="922.6" font-family="'Liberation Sans', sans-serif" font-size="4.70" font-weight="bold" fill="#0072bc" text-anchor="start" textLength="52.0" lengthAdjust="spacingAndGlyphs">CHANCE WATER WILL</text>
<text x="568.0" y="927.9" font-family="'Liberation Sans', sans-serif" font-size="4.70" font-weight="bold" fill="#0072bc" text-anchor="start" textLength="53.0" lengthAdjust="spacingAndGlyphs">BE ABOVE THIS LEVEL</text>
<path d="M540 936.9H563.8" stroke="#f58a3c" stroke-width="1.1"/>
<text x="568.0" y="939.3" font-family="'Liberation Sans', sans-serif" font-size="6.80" font-weight="bold" fill="#f5822a" text-anchor="start" textLength="15.5" lengthAdjust="spacingAndGlyphs">10%</text>
<text x="568.0" y="944.9" font-family="'Liberation Sans', sans-serif" font-size="4.70" font-weight="bold" fill="#f5822a" text-anchor="start" textLength="52.0" lengthAdjust="spacingAndGlyphs">CHANCE WATER WILL</text>
<text x="568.0" y="950.5" font-family="'Liberation Sans', sans-serif" font-size="4.70" font-weight="bold" fill="#f5822a" text-anchor="start" textLength="53.0" lengthAdjust="spacingAndGlyphs">BE ABOVE THIS LEVEL</text>
<g style="mix-blend-mode:multiply">
<path d="M222.7 446.6C216.7 448.8 198.1 455.0 186.5 459.6C174.9 464.2 164.3 468.8 153.2 474.0C142.1 479.2 128.8 484.9 119.9 490.8C111.0 496.7 104.8 503.4 99.9 509.2C95.0 515.0 92.1 521.1 90.3 525.8C88.5 530.5 88.5 533.7 89.0 537.5C89.5 541.3 90.9 545.0 93.3 548.8C95.7 552.6 98.9 556.5 103.3 560.2C107.7 563.9 113.0 567.6 119.9 570.9C126.8 574.2 136.6 577.4 144.9 579.9C153.2 582.4 162.3 584.4 169.8 586.0C177.3 587.6 183.9 588.5 189.8 589.3C195.7 590.1 202.6 590.6 205.1 590.9" fill="none" stroke="#9ccbe7" stroke-width="3.5" stroke-linecap="round" stroke-dasharray="10.8 6.5"/>
<path d="M397.7 446.4L520.9 654.7" fill="none" stroke="#9ccbe7" stroke-width="3.5" stroke-linecap="round" stroke-dasharray="10.8 6.5"/>
<circle cx="222.7" cy="446.6" r="4.8" fill="#9ccbe7"/>
<circle cx="205.1" cy="590.9" r="4.8" fill="#9ccbe7"/>
<circle cx="397.7" cy="446.4" r="4.8" fill="#9ccbe7"/>
<circle cx="520.9" cy="654.7" r="4.8" fill="#9ccbe7"/>
</g>
</svg>
</body></html>
